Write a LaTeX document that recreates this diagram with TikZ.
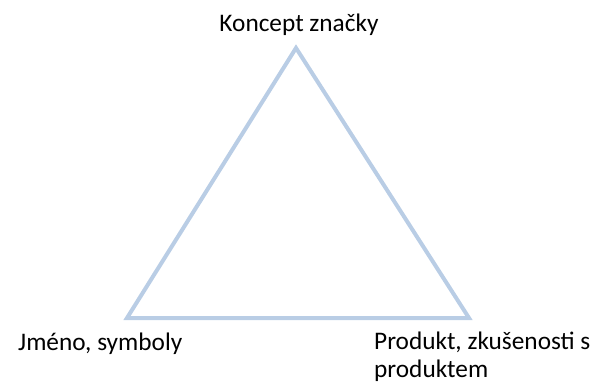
\documentclass[tikz,border=0pt]{standalone}
\usepackage{fontspec}
\setmainfont{Carlito}
\definecolor{triblue}{HTML}{B9CDE5}
\begin{document}
\begin{tikzpicture}[x=1pt,y=-1pt,
  lbl/.style={font=\fontsize{25.3}{28}\selectfont, text=black, inner sep=0pt},
  edge/.style={draw=triblue, line width=4pt, line join=miter}]
\useasboundingbox (0,0) rectangle (595,383);
\coordinate (top) at (296,48);
\coordinate (bl) at (127,318);
\coordinate (br) at (469,318);
\draw[edge] (top) -- (bl) -- (br) -- cycle;
\node[lbl, anchor=base] (t) at (299,31) {Koncept značky};
\node[lbl, anchor=base west] (l) at (18,350) {Jméno, symboly};
\node[lbl, anchor=base west, align=left] (r) at (374,377) {Produkt, zkušenosti s\\produktem};
\end{tikzpicture}
\end{document}
